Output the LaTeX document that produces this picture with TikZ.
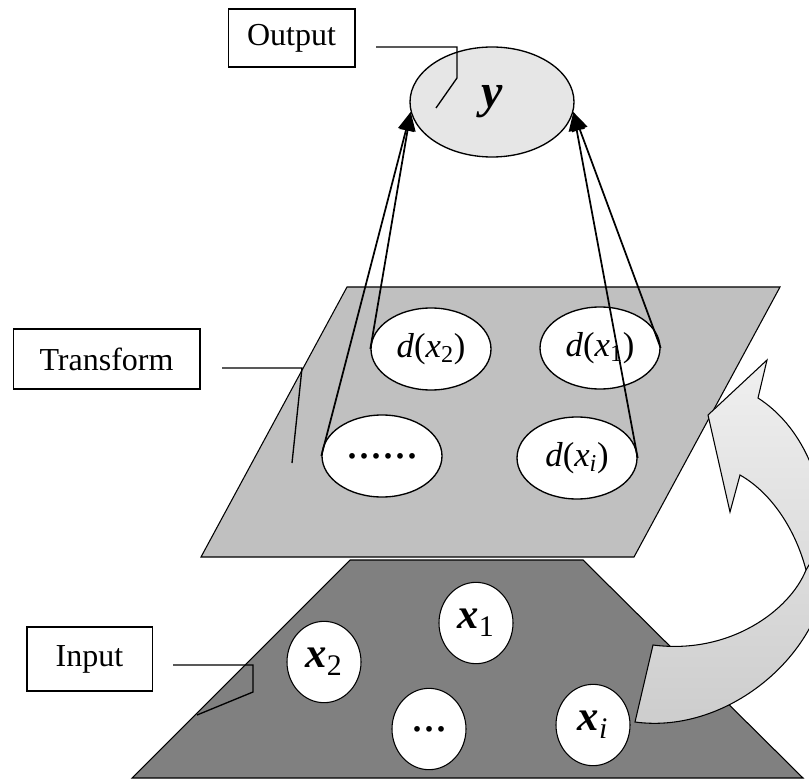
\documentclass[tikz,border=0pt]{standalone}
\usepackage{fontspec}
\setmainfont{Liberation Serif}
\usepackage{xcolor}
\definecolor{lgray}{RGB}{230,230,230}
\definecolor{mgray}{RGB}{192,192,192}
\definecolor{dgray}{RGB}{128,128,128}
\usetikzlibrary{positioning, calc, shapes.geometric, arrows.meta}
\tikzstyle{LabelBox} = [
draw,
line width=1pt,
rectangle,
inner sep=0pt,
font=\fontsize{24}{28}\selectfont]
\tikzstyle{Cell} = [
draw,
line width=1pt,
ellipse,
fill=white,
inner sep=0pt,
minimum width=90pt,
minimum height=61.5pt,
font=\fontsize{26}{30}\selectfont]
\tikzstyle{Ball} = [
draw,
line width=0.8pt,
ellipse,
fill=white,
inner sep=0pt,
minimum width=55.5pt,
minimum height=61pt,
font=\fontsize{32}{36}\selectfont]
\tikzstyle{Arrow} = [
line width=1.3pt,
-{Triangle[length=14pt, width=12pt]}]
\tikzstyle{Callout} = [line width=1pt]

\begin{document}
\begin{tikzpicture}[x=0.75pt, y=-0.75pt]
    \useasboundingbox (0,0) rectangle (809,780);

    % layers
    \draw[fill=dgray, line width=0.8pt] (350,560) -- (583,560) -- (803,778) -- (132,778) -- cycle;
    \draw[fill=mgray, line width=0.8pt] (347,287) -- (780,287) -- (634,557) -- (201,557) -- cycle;

    % curved arrow
    \begin{scope}
        \clip (0,0) rectangle (809,780);
        \draw[line width=0.8pt, top color=gray!12, bottom color=gray!40]
            (635,722) -- (653,645)
            .. controls (730,655) and (790,610) .. (806,570)
            .. controls (797,535) and (775,495) .. (740,475)
            -- (730,512) -- (708,415) -- (767,360) -- (758,398)
            .. controls (800,425) and (828,480) .. (828,560)
            .. controls (828,650) and (730,735) .. (635,722) -- cycle;
        \draw[line width=0.8pt] (806,570) -- (812,560);
    \end{scope}

    \node[draw, line width=1pt, ellipse, fill=lgray, inner sep=0pt,
        minimum width=123pt, minimum height=82.5pt,
        font=\fontsize{36}{40}\selectfont] (y) at (492,102) {\bfseries\itshape y};

    \node[Cell] (dx2) at (431,349) {\textit{d}(\textit{x}\textsubscript{2})};
    \node[Cell] (dx1) at (600,348) {\textit{d}(\textit{x}\textsubscript{1})};
    \node[Cell, font=\fontsize{36}{40}\selectfont] (ddots) at (382,456) {......};
    \node[Cell] (dxi) at (577,458) {\textit{d}(\textit{x}\textsubscript{\textit{i}})};

    \node[Ball] (x2) at (324,662) {{\bfseries\itshape x}\textsubscript{2}};
    \node[Ball] (x1) at (476,623) {{\bfseries\itshape x}\textsubscript{1}};
    \node[Ball, font=\fontsize{36}{40}\selectfont] (xdots) at (429,729) {...};
    \node[Ball] (xi) at (593,725) {{\bfseries\itshape x}\textsubscript{\textit{i}}};

    \draw[Arrow] (dx2.west) -- (y.187);
    \draw[Arrow] (ddots.west) -- (y.187);
    \draw[Arrow] (dx1.east) -- (y.353);
    \draw[Arrow] (dxi.east) -- (y.353);

    % labels
    \node[LabelBox, minimum width=95pt, minimum height=43.5pt] (out) at (291.5,38) {Output};
    \node[LabelBox, minimum width=140pt, minimum height=45pt] (trans) at (106.5,359) {Transform};
    \node[LabelBox, minimum width=94pt, minimum height=48pt] (in) at (89.5,659) {Input};

    \coordinate (o1) at (376,47);
    \coordinate (o2) at (457,47);
    \coordinate (o3) at (457,78);
    \coordinate (o4) at (436,108);
    \coordinate (t1) at (222,368);
    \coordinate (t2) at (302,368);
    \coordinate (t3) at (292,463);
    \coordinate (i1) at (173,665);
    \coordinate (i2) at (253,665);
    \coordinate (i3) at (253,692);
    \coordinate (i4) at (197,715);
    \draw[Callout] (o1) -- (o2) -- (o3) -- (o4);
    \draw[Callout] (t1) -- (t2) -- (t3);
    \draw[Callout] (i1) -- (i2) -- (i3) -- (i4);
\end{tikzpicture}
\end{document}
